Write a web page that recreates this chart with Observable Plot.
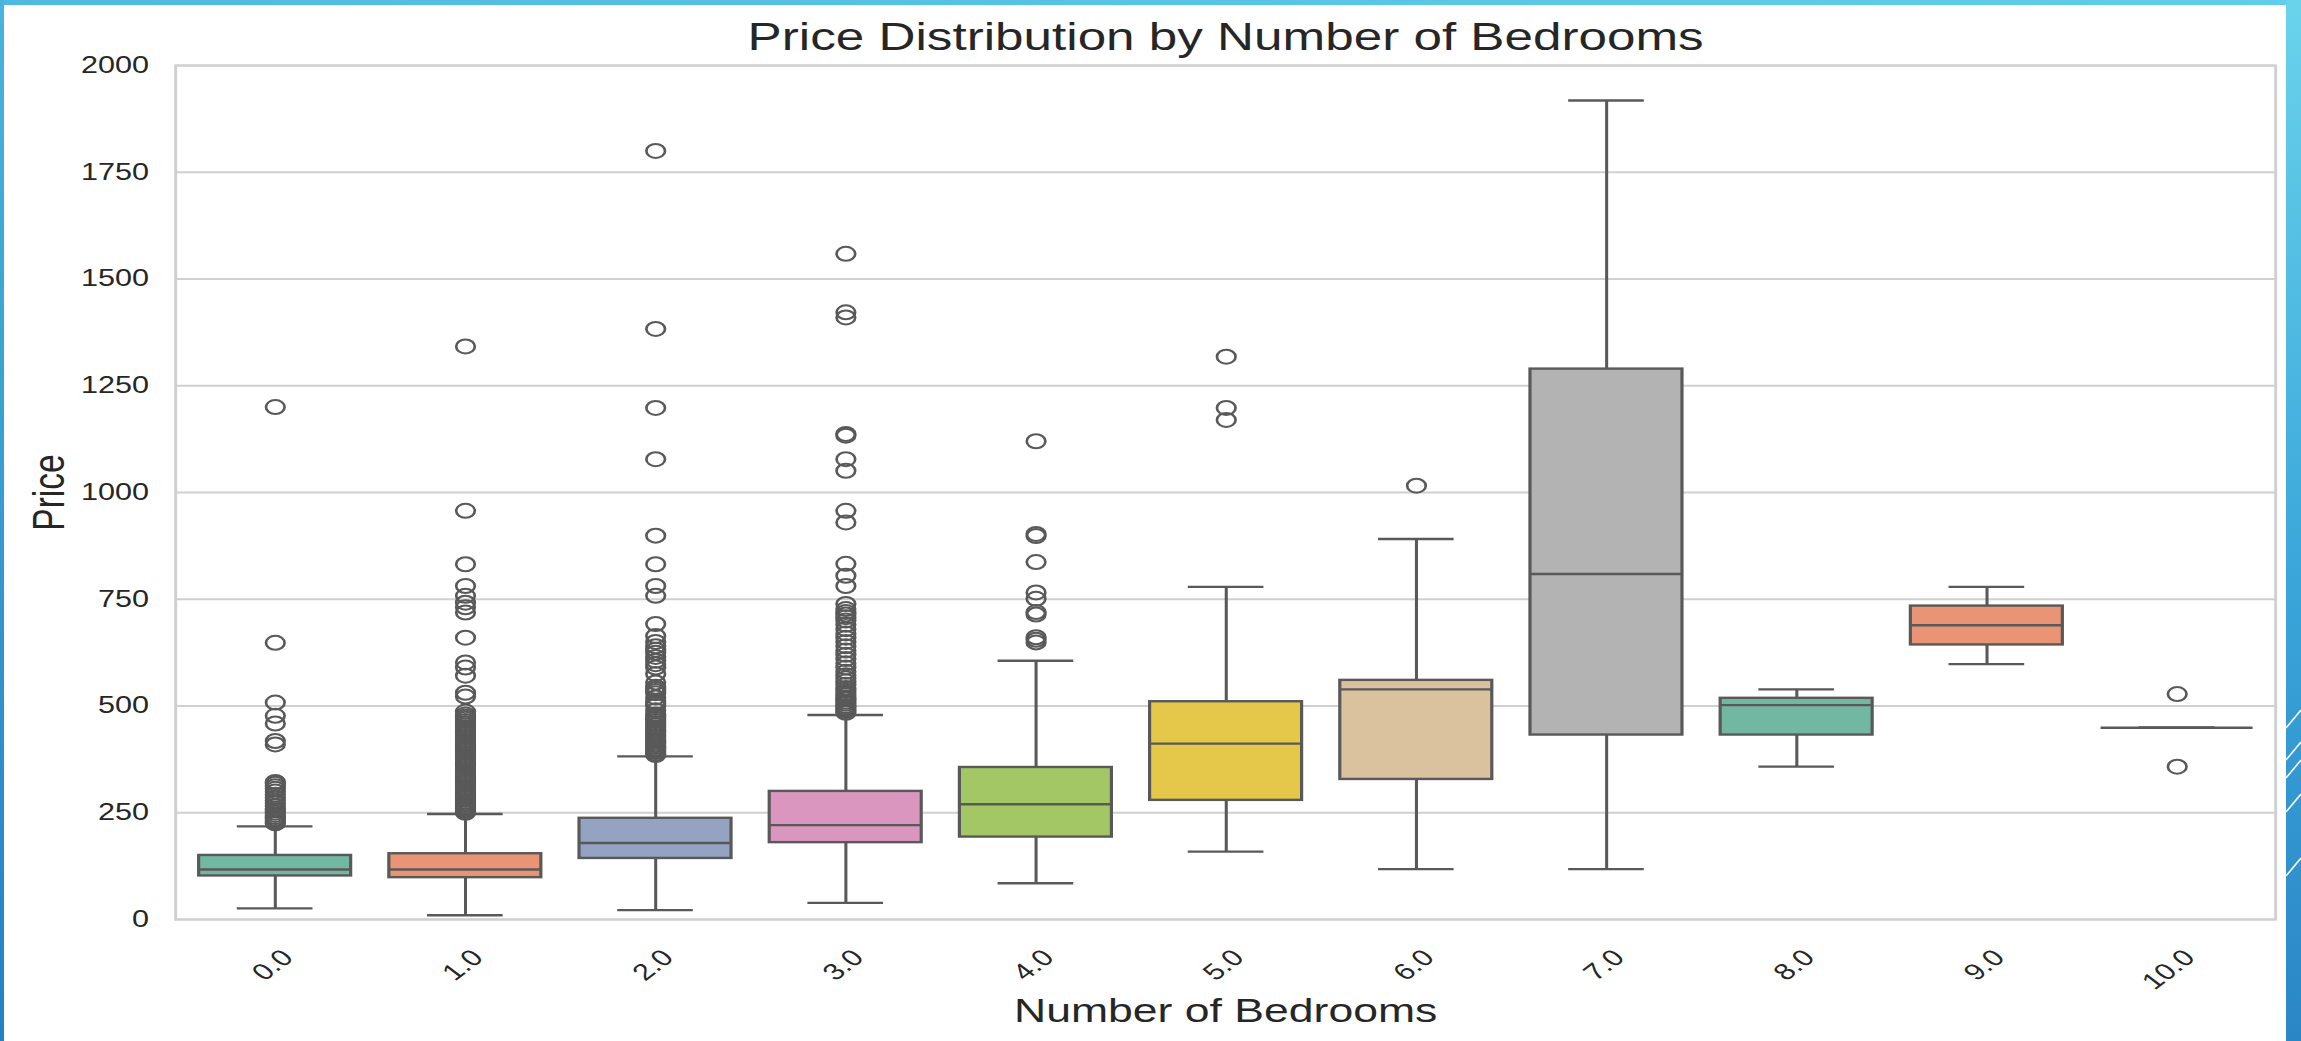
<!DOCTYPE html>
<html>
<head>
<meta charset="utf-8">
<script src="https://cdn.jsdelivr.net/npm/d3@7"></script>
<script src="https://cdn.jsdelivr.net/npm/@observablehq/plot@0.6"></script>
<style>
  html, body { margin: 0; padding: 0; background: #ffffff; }
  #page { position: relative; width: 2301px; height: 1041px; overflow: hidden; background: #ffffff; }
  #chart { position: absolute; left: 0; top: 0; }
  .band { position: absolute; z-index: 2; }
  .band.top { left: 0; top: 0; width: 2301px; height: 5px; background: linear-gradient(90deg, #4fb9e1, #62cdea); }
  .band.left { left: 0; top: 0; width: 4px; height: 1041px; background: linear-gradient(#48b4df, #2580c2); }
  .band.right { right: 0; top: 0; width: 15px; height: 1041px; background: linear-gradient(#6ad3ec, #3aa6da 55%, #2b86c6); }
  #slashes { position: absolute; right: 0; top: 0; z-index: 3; }
</style>
</head>
<body>
<div id="page">
  <div id="chart"></div>
  <div class="band top"></div>
  <div class="band left"></div>
  <div class="band right"></div>
  <svg id="slashes" width="15" height="1041">
    <g stroke="#ffffff" stroke-width="1.6" fill="none">
      <line x1="0" y1="728" x2="15" y2="710"/>
      <line x1="0" y1="760" x2="15" y2="742"/>
      <line x1="0" y1="778" x2="15" y2="760"/>
      <line x1="0" y1="812" x2="15" y2="794"/>
      <line x1="0" y1="876" x2="15" y2="858"/>
    </g>
  </svg>
</div>
<script>
// Listing prices grouped by bedroom count: box summaries and outlying listings
const categories = ["0.0", "1.0", "2.0", "3.0", "4.0", "5.0", "6.0", "7.0", "8.0", "9.0", "10.0"];
const q1 = [102, 98, 143, 180, 193, 279, 328, 432, 432, 643, 449];
const median = [117, 117, 179, 221, 270, 412, 539, 809, 502, 689, 449];
const q3 = [150, 154, 237, 300, 356, 510, 560, 1289, 518, 734, 449];
const whiskerLow = [26, 10, 22, 39, 85, 159, 118, 118, 358, 598, 449];
const whiskerHigh = [218, 247, 382, 479, 606, 779, 891, 1918, 539, 779, 449];
const outlierPrices = [
  [225, 228, 232, 236, 240, 245, 250, 255, 260, 266, 272, 278, 285, 292, 300, 306, 312, 318, 322, 410, 418, 459, 477, 508, 648, 1200],
  [250, 253, 256, 260, 264, 268, 272, 276, 280, 285, 290, 295, 300, 305, 310, 315, 320, 325, 330, 335, 340, 345, 350, 355, 360, 365, 370, 375, 380, 385, 390, 395, 400, 405, 410, 415, 420, 425, 430, 435, 440, 445, 450, 455, 460, 465, 470, 475, 480, 487, 522, 531, 571, 590, 602, 660, 719, 731, 742, 758, 781, 832, 957, 1342],
  [385, 388, 392, 396, 400, 404, 408, 412, 416, 420, 425, 430, 435, 440, 445, 450, 455, 460, 465, 470, 475, 480, 490, 500, 505, 510, 520, 530, 535, 540, 545, 555, 575, 590, 598, 606, 615, 625, 632, 640, 650, 664, 692, 758, 781, 832, 899, 1078, 1198, 1383, 1800],
  [484, 488, 492, 496, 500, 505, 510, 515, 520, 525, 530, 536, 542, 550, 558, 565, 572, 580, 590, 600, 610, 620, 630, 640, 650, 660, 670, 680, 690, 700, 708, 714, 720, 727, 739, 781, 805, 833, 930, 957, 1051, 1078, 1133, 1137, 1410, 1422, 1559],
  [649, 655, 661, 714, 720, 751, 766, 837, 898, 903, 1120],
  [1170, 1198, 1318],
  [1016],
  [],
  [],
  [],
  [358, 528]
];
const yTicks = [0, 250, 500, 750, 1000, 1250, 1500, 1750, 2000];
const boxColors = ["#71b7a1", "#e99575", "#95a3c3", "#db96c0", "#a2c764", "#e5c849", "#dbc29e", "#b3b3b3", "#71b7a1", "#e99575", "#95a3c3"];
const titleText = "Price Distribution by Number of Bedrooms";
const xLabelText = "Number of Bedrooms";
const yLabelText = "Price";

// Tables for the marks
const boxes = categories.map((cat, i) => ({
  cat, q1: q1[i], median: median[i], q3: q3[i], lo: whiskerLow[i], hi: whiskerHigh[i]
}));
const fliers = categories.flatMap((cat, i) => outlierPrices[i].map(price => ({cat, price})));

// The figure is laid out at a narrower width and then widened horizontally
// to the full page, so glyphs and markers are drawn stretched sideways.
const W = 2301, H = 1041;
const stretch = 1.33;
const W0 = W / stretch;
const margin = {left: 175 / stretch, right: 26 / stretch, top: 65, bottom: 122};
const band = (W0 - margin.left - margin.right) / categories.length;
const boxInset = band * 0.1;   // box covers 80% of the band
const capInset = band * 0.3;   // whisker caps cover 40% of the band

const ink = "#595959";
const textInk = "#262626";
const gridInk = "#d0d0d0";
const font = "'Liberation Sans', Arial, Helvetica, sans-serif";

const chart = Plot.plot({
  width: W0,
  height: H,
  marginLeft: margin.left,
  marginRight: margin.right,
  marginTop: margin.top,
  marginBottom: margin.bottom,
  style: {fontFamily: font, background: "#ffffff", color: textInk},
  x: {type: "band", domain: categories, padding: 0, axis: null},
  y: {domain: [0, 2000], axis: null},
  color: {type: "ordinal", domain: categories, range: boxColors},
  marks: [
    Plot.gridY(yTicks, {stroke: gridInk, strokeOpacity: 1, strokeWidth: 2.2}),
    Plot.frame({stroke: gridInk, strokeWidth: 2.2}),
    Plot.axisY(yTicks, {tickSize: 0, tickPadding: 20, fontSize: 23, fill: textInk, label: null, tickFormat: d => `${d}`}),
    // whiskers
    Plot.ruleX(boxes, {x: "cat", y1: "lo", y2: "q1", stroke: ink, strokeWidth: 2.3}),
    Plot.ruleX(boxes, {x: "cat", y1: "q3", y2: "hi", stroke: ink, strokeWidth: 2.3}),
    Plot.tickY(boxes, {x: "cat", y: "lo", stroke: ink, strokeWidth: 2.4, insetLeft: capInset, insetRight: capInset}),
    Plot.tickY(boxes, {x: "cat", y: "hi", stroke: ink, strokeWidth: 2.4, insetLeft: capInset, insetRight: capInset}),
    // interquartile boxes and medians
    Plot.barY(boxes, {x: "cat", y1: "q1", y2: "q3", fill: "cat", stroke: ink, strokeWidth: 2.4, insetLeft: boxInset, insetRight: boxInset}),
    Plot.tickY(boxes, {x: "cat", y: "median", stroke: ink, strokeWidth: 2.4, insetLeft: boxInset, insetRight: boxInset}),
    // outliers
    Plot.dot(fliers, {x: "cat", y: "price", r: 7, fill: "none", stroke: ink, strokeWidth: 2}),
    // category tick labels, rotated
    Plot.text(categories, {x: d => d, frameAnchor: "bottom", dx: 3, dy: 28, rotate: -45, fontSize: 23, fill: textInk, textAnchor: "end", lineAnchor: "top"}),
    // axis titles and chart title
    Plot.text([xLabelText], {frameAnchor: "bottom", dy: 92, fontSize: 33.5, fill: textInk, textAnchor: "middle", lineAnchor: "middle"}),
    Plot.text([yLabelText], {frameAnchor: "left", dx: -95, rotate: -90, fontSize: 33.5, fill: textInk, textAnchor: "middle", lineAnchor: "middle"}),
    Plot.text([titleText], {frameAnchor: "top", dy: -28, fontSize: 38.5, fill: textInk, textAnchor: "middle", lineAnchor: "middle"})
  ]
});

// widen the drawing to the full page width
chart.setAttribute("viewBox", `0 0 ${W0} ${H}`);
chart.setAttribute("preserveAspectRatio", "none");
chart.setAttribute("width", W);
chart.setAttribute("height", H);
chart.style.width = W + "px";
chart.style.height = H + "px";
chart.style.maxWidth = "none";

document.getElementById("chart").appendChild(chart);
</script>
</body>
</html>
